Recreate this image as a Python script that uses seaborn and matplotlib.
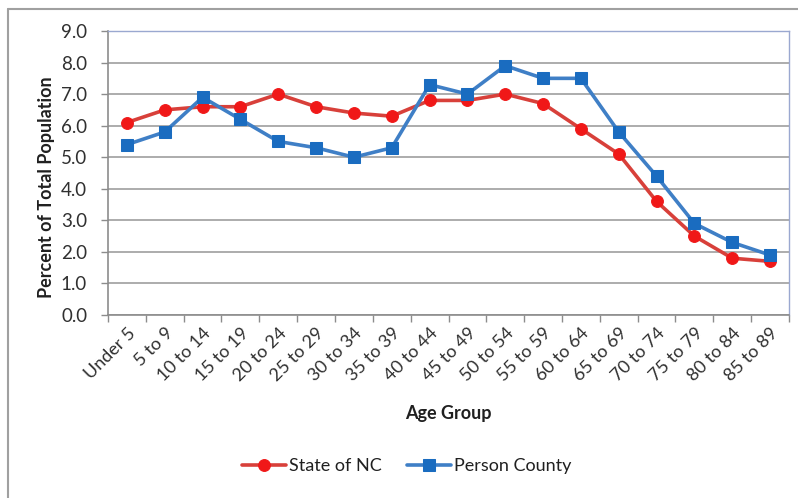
import matplotlib
matplotlib.use("Agg")
import matplotlib.pyplot as plt
from matplotlib.lines import Line2D
import seaborn as sns
import pandas as pd

age_groups = ["Under 5", "5 to 9", "10 to 14", "15 to 19", "20 to 24", "25 to 29",
              "30 to 34", "35 to 39", "40 to 44", "45 to 49", "50 to 54", "55 to 59",
              "60 to 64", "65 to 69", "70 to 74", "75 to 79", "80 to 84", "85 to 89"]
state_nc = [6.1, 6.5, 6.6, 6.6, 7.0, 6.6, 6.4, 6.3, 6.8, 6.8, 7.0, 6.7, 5.9, 5.1, 3.6, 2.5, 1.8, 1.7]
person_county = [5.4, 5.8, 6.9, 6.2, 5.5, 5.3, 5.0, 5.3, 7.3, 7.0, 7.9, 7.5, 7.5, 5.8, 4.4, 2.9, 2.3, 1.9]
series_names = ["State of NC", "Person County"]
y_ticks = [0, 1, 2, 3, 4, 5, 6, 7, 8, 9]

sns.set_theme(style="white")
plt.rcParams["font.family"] = ["Lato", "DejaVu Sans"]

df = pd.DataFrame({
    "Age Group": age_groups * 2,
    "Percent": state_nc + person_county,
    "Series": [series_names[0]] * len(age_groups) + [series_names[1]] * len(age_groups),
})

fig = plt.figure(figsize=(7.98, 4.98), dpi=100)
ax = fig.add_axes([108 / 798, 1 - 315 / 498, (789 - 108) / 798, (315 - 31) / 498])

line_colors = {"State of NC": "#d8403a", "Person County": "#3f7fc6"}
marker_colors = {"State of NC": "#f01818", "Person County": "#1a6cc0"}
markers = {"State of NC": "o", "Person County": "s"}

for name in series_names:
    sub = df[df["Series"] == name]
    sns.lineplot(data=sub, x="Age Group", y="Percent", ax=ax, sort=False,
                 color=line_colors[name], linewidth=2.6, marker=markers[name],
                 markersize=8.5, markerfacecolor=marker_colors[name],
                 markeredgecolor=marker_colors[name], label=name, zorder=3)

ax.set_xlim(-0.5, len(age_groups) - 0.5)
ax.set_ylim(0, 9)
ax.set_yticks(y_ticks)
ax.set_yticklabels([f"{v:.1f}" for v in y_ticks])
ax.yaxis.grid(True, color="#a6a6a6", linewidth=1.3)
ax.set_axisbelow(True)

# category boundary tick marks on the x axis
ax.set_xticks(range(len(age_groups)))
ax.set_xticklabels(age_groups, rotation=45, ha="right", va="top", rotation_mode="anchor")
ax.set_xticks([i - 0.5 for i in range(len(age_groups) + 1)], minor=True)
ax.tick_params(axis="x", which="major", length=0, pad=7, labelsize=13, labelcolor="#303030")
ax.tick_params(axis="x", which="minor", length=5, width=1, color="#8c8c8c", bottom=True)
ax.tick_params(axis="y", length=5, width=1, color="#8c8c8c", labelsize=13.5,
               labelcolor="#303030", left=True, pad=10)

for side in ["left", "bottom"]:
    ax.spines[side].set_color("#8c8c8c")
    ax.spines[side].set_linewidth(1.2)
for side in ["top", "right"]:
    ax.spines[side].set_color("#9aa8d0")
    ax.spines[side].set_linewidth(1.0)

ax.set_xlabel("Age Group", fontsize=13, fontweight="bold", color="#202020", labelpad=15)
ax.set_ylabel("Percent of Total Population", fontsize=13, fontweight="bold",
              color="#202020")
ax.yaxis.set_label_coords(-0.078, 0.45)

ax.get_legend().remove()
handles, labels = ax.get_legend_handles_labels()
fig.legend(handles, labels, loc="center", bbox_to_anchor=(0.51, 1 - 466 / 498), ncol=2,
           frameon=False, fontsize=13, handlelength=2.4, handletextpad=0.2,
           columnspacing=1.4, labelcolor="#202020")

# outer chart frame
fig.add_artist(Line2D([8 / 798, 1.0], [1 - 9 / 498, 1 - 9 / 498], transform=fig.transFigure,
                      color="#a0a0a0", linewidth=1.5))
fig.add_artist(Line2D([8 / 798, 8 / 798], [0.0, 1 - 9 / 498], transform=fig.transFigure,
                      color="#a0a0a0", linewidth=1.5))

fig.savefig("out.png", dpi=100, facecolor="white")
